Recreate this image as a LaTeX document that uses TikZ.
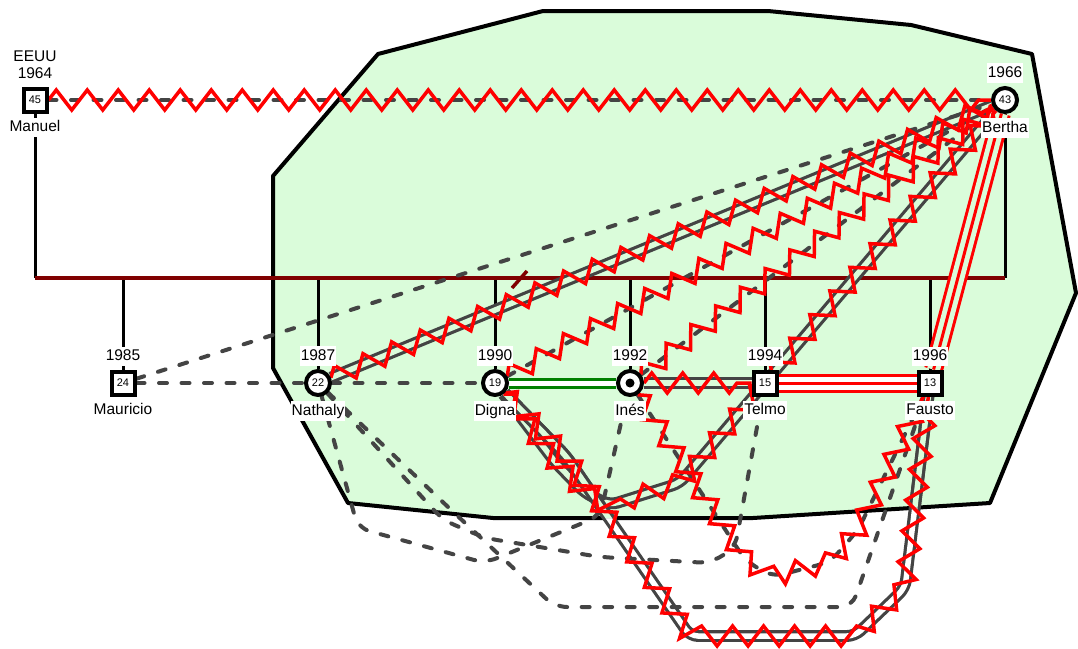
\documentclass[tikz,border=0pt]{standalone}
\usepackage{fontspec}
\setmainfont{Liberation Sans}
\usetikzlibrary{positioning, decorations.pathmorphing}
\definecolor{hullgreen}{RGB}{218,252,218}
\definecolor{relgray}{RGB}{68,68,68}
\definecolor{wedred}{RGB}{128,0,0}
\definecolor{closegreen}{RGB}{0,128,0}
\pgfdeclarelayer{bg}
\pgfdeclarelayer{rel}
\pgfsetlayers{bg,rel,main}
\def\hullpts{(273,176) -- (378,54) -- (543,11) -- (768,11) -- (911,25) -- (1032,54) -- (1076,293) -- (990,503) -- (753,518) -- (493,518) -- (348,503) -- (273,368) -- cycle}

\begin{document}
\begin{tikzpicture}[x=1pt, y=-1pt,
  every node/.style={font=\fontsize{15.5}{17}\selectfont},
  male/.style={draw, line width=4pt, fill=white, rectangle, minimum size=23pt, inner sep=0pt, font=\fontsize{11}{12}\selectfont},
  female/.style={draw, line width=4pt, fill=white, circle, minimum size=24pt, inner sep=0pt, font=\fontsize{11}{12}\selectfont},
  tag/.style={fill=white, inner xsep=1pt, inner ysep=2pt, text height=12pt, text depth=3.5pt},
  kin/.style={line width=3pt},
  distant/.style={relgray, line width=4pt, dash pattern=on 8pt off 14.5pt, line cap=round},
  fused/.style={relgray, line width=3.2pt, double distance=5.5pt, double=hullgreen},
  hostile/.style={red, line width=3.5pt, line join=miter, decorate, decoration={zigzag, segment length=31pt, amplitude=10pt}},
  close/.style={closegreen, line width=3pt, double distance=5pt, double=white},
  hate/.style={red, line width=3pt, double distance=13pt, double=white}]
\useasboundingbox (0,0) rectangle (1078,648);

% family members
\node[male] (manuel) at (35,100) {45};
\node[female] (bertha) at (1005,100) {43};
\node[male] (mauricio) at (123,383) {24};
\node[female] (nathaly) at (318,383) {22};
\node[female] (digna) at (495,383) {19};
\node[female] (ines) at (630,383) {};
\fill (ines) circle (4.5pt);
\node[male] (telmo) at (765,383) {15};
\node[male] (fausto) at (930,383) {13};
\coordinate (marr) at (0,278);

% years and names
\node[align=center, inner sep=0pt, above=8pt of manuel] (manueltop) {EEUU\\1964};
\node[tag, below=4pt of manuel] (manuelname) {Manuel};
\node[tag, above=3pt of bertha] (berthayear) {1966};
\node[tag, below=4pt of bertha] (berthaname) {Bertha};
\node[tag, above=3pt of mauricio] (mauricioyear) {1985};
\node[tag, below=4pt of mauricio] (mauricioname) {Mauricio};
\node[tag, above=3pt of nathaly] (nathalyyear) {1987};
\node[tag, below=4pt of nathaly] (nathalyname) {Nathaly};
\node[tag, above=3pt of digna] (dignayear) {1990};
\node[tag, below=4pt of digna] (dignaname) {Digna};
\node[tag, above=3pt of ines] (inesyear) {1992};
\node[tag, below=4pt of ines] (inesname) {Inés};
\node[tag, above=3pt of telmo] (telmoyear) {1994};
\node[tag, below=4pt of telmo] (telmoname) {Telmo};
\node[tag, above=3pt of fausto] (faustoyear) {1996};
\node[tag, below=4pt of fausto] (faustoname) {Fausto};

\begin{pgfonlayer}{bg}
\draw[fill=hullgreen, line width=4pt, line join=round] \hullpts;
\end{pgfonlayer}

\begin{pgfonlayer}{rel}
% marriage and children
\draw[kin] (manuel) -- (manuel |- marr);
\draw[kin] (bertha) -- (bertha |- marr);
\foreach \kid in {mauricio, nathaly, digna, ines, telmo, fausto}
  \draw[kin] (\kid |- marr) -- (\kid);
\draw[wedred, line width=4pt] (manuel |- marr) -- (bertha |- marr);
\draw[wedred, line width=3.5pt] (512,288) -- (527,271);

% fused
\draw[fused] (nathaly) -- (bertha);
\draw[fused] (ines) -- (telmo);
\draw[fused, rounded corners=8pt] (digna) -- (555,462) -- (585,493) -- (610,505) -- (680,483) -- (bertha);
\draw[fused, double=white, rounded corners=8pt] (digna) -- (566,456) -- (690,636) -- (855,636) -- (905,588) -- (fausto);
\begin{scope}
  \clip \hullpts;
  \draw[fused, rounded corners=8pt] (digna) -- (566,456) -- (690,636) -- (855,636) -- (905,588) -- (fausto);
\end{scope}

% close and hate
\draw[close] (digna) -- (ines);
\draw[hate] (telmo) -- (fausto);
\draw[red, line width=3pt] (telmo) -- (fausto);
\draw[hate, double=hullgreen] (fausto) -- (bertha);
\draw[red, line width=3pt] (fausto) -- (bertha);

% distant
\draw[distant] (manuel) -- (bertha);
\draw[distant] (mauricio) -- (bertha);
\draw[distant] (mauricio) -- (nathaly);
\draw[distant] (nathaly) -- (digna);
\draw[distant] (digna) -- (bertha);
\draw[distant] (ines) -- (bertha);
\draw[distant, rounded corners=12pt] (ines) -- (745,560) -- (772,577) -- (830,562) -- (858,530) -- (fausto);
\draw[distant, rounded corners=12pt] (nathaly) -- (358,528) -- (485,563) -- (600,516) -- (ines);
\draw[distant, rounded corners=12pt] (nathaly) -- (443,520) -- (485,538) -- (600,557) -- (710,563) -- (735,548) -- (telmo);
\draw[distant, rounded corners=12pt] (nathaly) -- (448,507) -- (555,607) -- (852,607) -- (fausto);

% hostile
\draw[hostile] (manuel) -- (bertha);
\draw[hostile] (nathaly) -- (bertha);
\draw[hostile] (digna) -- (bertha);
\draw[hostile] (ines) -- (bertha);
\draw[hostile] (ines) -- (telmo);
\draw[hostile] (digna) -- (555,462) -- (585,493) -- (610,505) -- (680,483) -- (bertha);
\draw[hostile] (digna) -- (566,456) -- (690,636) -- (855,636) -- (905,588) -- (fausto);
\draw[hostile] (ines) -- (745,560) -- (772,577) -- (830,562) -- (858,530) -- (fausto);
\end{pgfonlayer}
\end{tikzpicture}
\end{document}
